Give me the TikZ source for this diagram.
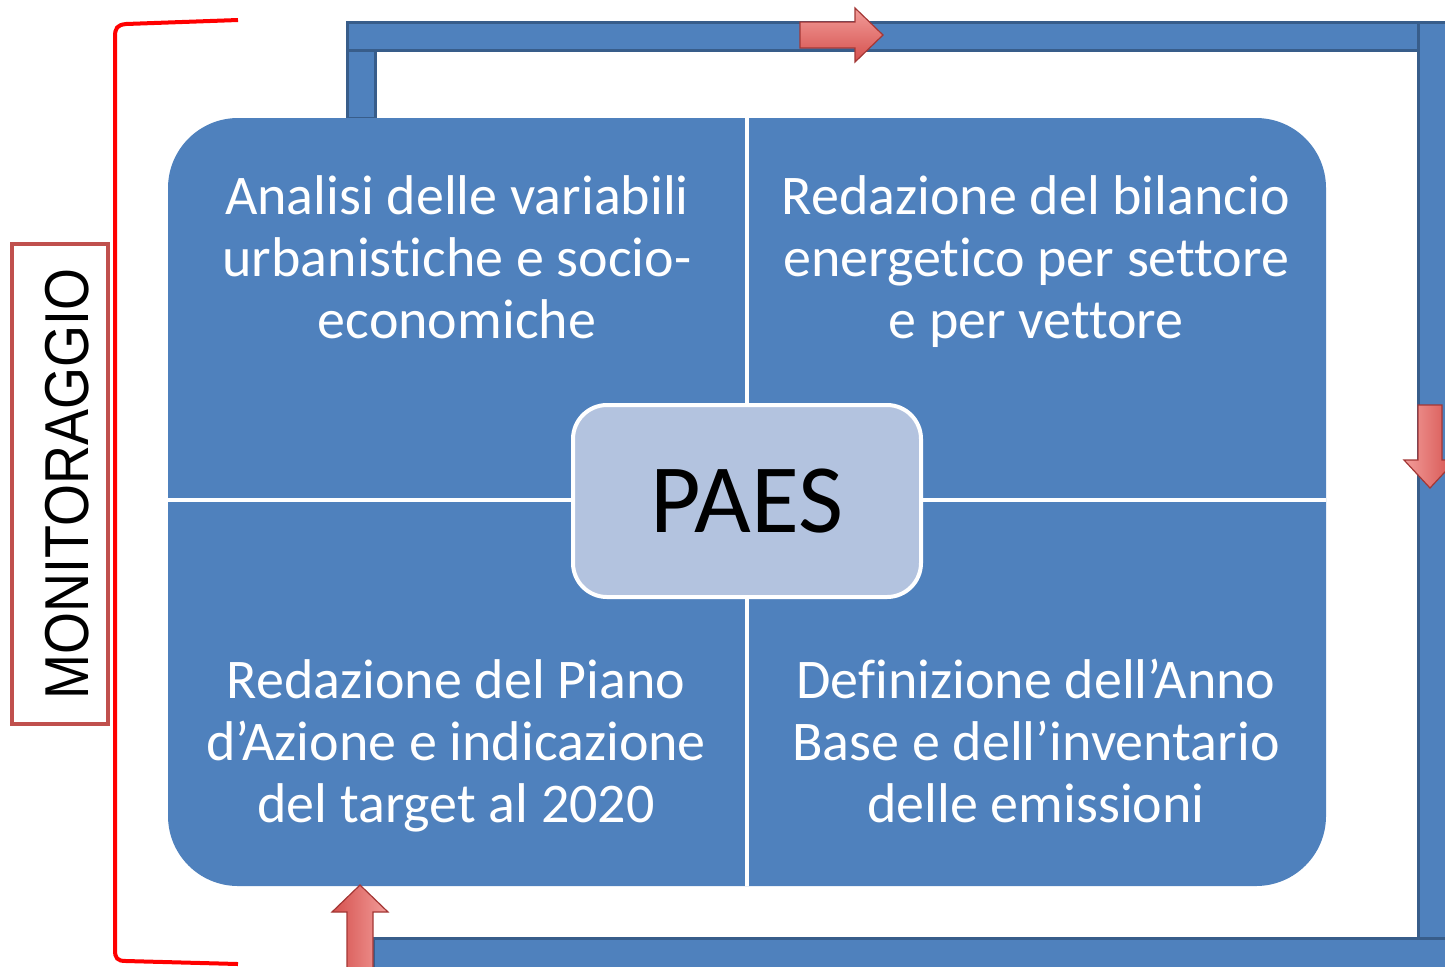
\documentclass[tikz,border=0pt]{standalone}
\usepackage{fontspec}
\setmainfont{Carlito}[Ligatures=NoCommon]
\newfontfamily\monfont{Liberation Sans}

\definecolor{blockblue}{HTML}{4F81BD}
\definecolor{frameedge}{HTML}{385D8A}
\definecolor{paesfill}{HTML}{B3C3DF}
\definecolor{arrowlight}{HTML}{F29D9A}
\definecolor{arrowdark}{HTML}{D5504D}
\definecolor{arrowedge}{HTML}{A33735}
\definecolor{monred}{HTML}{C0504D}

\tikzset{
  framebar/.style={fill=blockblue, draw=frameedge, line width=1.5pt},
  quadtext/.style={text=white, align=center, font=\fontsize{28}{31}\selectfont},
  divider/.style={white, line width=2pt},
  paesbox/.style={fill=paesfill, draw=white, line width=2pt, rounded corners=17pt,
    minimum width=174pt, minimum height=96pt, font=\fontsize{49}{55}\selectfont},
  redarrow/.style={draw=arrowedge, line width=0.6pt},
  monbox/.style={draw=monred, line width=2pt, fill=white},
  montext/.style={rotate=90, inner sep=0pt, font=\monfont\fontsize{31}{34}\selectfont}
}

\begin{document}
\begin{tikzpicture}[x=0.5pt,y=-0.5pt]
  \useasboundingbox (0,0) rectangle (1445,966);

  \draw[framebar] (347,22) rectangle (375,118);
  \draw[framebar] (347,22) rectangle (1460,50);
  \draw[framebar] (1418,22) rectangle (1460,940);
  \draw[framebar] (373,938) rectangle (1460,980);

  \fill[blockblue, rounded corners=35pt] (168,118) rectangle (1326,886);
  \draw[divider] (747,118) -- (747,886);
  \draw[divider] (168,500) -- (1326,500);

  \node[quadtext] (analisi) at (457,257) {Analisi delle variabili\\urbanistiche e socio-\\economiche};
  \node[quadtext] (bilancio) at (1036,262) {Redazione del bilancio\\energetico per settore\\e per vettore};
  \node[quadtext] (piano) at (456,746) {Redazione del Piano\\d’Azione e indicazione\\del target al 2020};
  \node[quadtext] (annobase) at (1036,741) {Definizione dell’Anno\\Base e dell’inventario\\delle emissioni};

  \node[paesbox] (paes) at (747,501) {PAES};

  \draw[redarrow, top color=arrowlight, bottom color=arrowdark]
    (800,22) -- (855,22) -- (855,8) -- (883,35) -- (855,62) -- (855,48) -- (800,48) -- cycle;
  \draw[redarrow, left color=arrowlight, right color=arrowdark]
    (1418,405) -- (1442,405) -- (1442,460) -- (1456,460) -- (1430,488) -- (1404,460) -- (1418,460) -- cycle;
  \draw[redarrow, left color=arrowdark, right color=arrowlight]
    (347,975) -- (347,912) -- (332,912) -- (360,885) -- (388,912) -- (373,912) -- (373,975) -- cycle;

  \draw[red, line width=2pt] (238,20) -- (126,24) .. controls (117,25) and (115,28) .. (115,37)
    -- (115,950) .. controls (115,958) and (117,961) .. (126,961) -- (238,964);

  \draw[monbox] (12,244) rectangle (108,724);
  \node[montext] (monit) at (67,484) {\scalebox{0.87}[1]{MONITORAGGIO}};
\end{tikzpicture}
\end{document}
